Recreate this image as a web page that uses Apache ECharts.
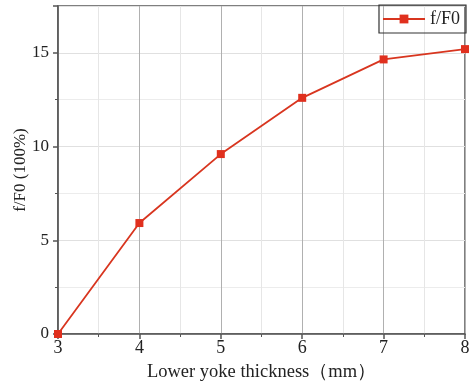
<!DOCTYPE html>
<html><head><meta charset="utf-8">
<script src="https://cdn.jsdelivr.net/npm/echarts@6/dist/echarts.min.js"></script>
<style>html,body{margin:0;padding:0;background:#fff}#c{width:471px;height:387px}</style>
</head><body><div id="c"></div>
<script>
const thickness = [3, 4, 5, 6, 7, 8];
const ratio = [0, 5.92, 9.6, 12.6, 14.65, 15.2];
const seriesName = 'f/F0';
const xTitle = 'Lower yoke thickness（mm）';
const yTitle = 'f/F0 (100%)';
const font = '"Liberation Serif", "DejaVu Serif", serif';
const chart = echarts.init(document.getElementById('c'));
chart.setOption({
  animation: false,
  grid: {left: 58, right: 6, top: 6, bottom: 53, show: true, borderColor: '#555', borderWidth: 1.5,
         backgroundColor: 'transparent', containLabel: false, outerBoundsMode: 'none'},
  legend: {
    right: 5, top: 5, orient: 'horizontal',
    borderColor: '#333', borderWidth: 1.2, padding: [5, 6, 5, 3],
    itemWidth: 42, itemHeight: 11, itemGap: 4,
    textStyle: {fontFamily: font, fontSize: 18, color: '#222'},
    data: [seriesName]
  },
  xAxis: {
    type: 'value', min: 3, max: 8, interval: 1,
    name: xTitle, nameLocation: 'middle', nameGap: 29, nameMoveOverlap: false,
    nameTextStyle: {fontFamily: font, fontSize: 18.5, color: '#222'},
    axisLine: {show: true, lineStyle: {color: '#555', width: 1.5}},
    axisTick: {show: true, inside: false, length: 5, lineStyle: {color: '#555', width: 1.5}},
    minorTick: {show: true, splitNumber: 2, length: 3, lineStyle: {color: '#555'}},
    axisLabel: {fontFamily: font, fontSize: 18, color: '#222', margin: 5},
    splitLine: {show: true, lineStyle: {color: '#b0b0b0', width: 1}},
    minorSplitLine: {show: true, lineStyle: {color: '#e6e6e6', width: 1}}
  },
  yAxis: {
    type: 'value', min: 0, max: 17.5, interval: 5,
    name: yTitle, nameLocation: 'middle', nameGap: 29, nameMoveOverlap: false,
    nameTextStyle: {fontFamily: font, fontSize: 17, color: '#222'},
    axisLine: {show: true, lineStyle: {color: '#555', width: 1.5}},
    axisTick: {show: true, inside: false, length: 5, lineStyle: {color: '#555', width: 1.5}},
    minorTick: {show: true, splitNumber: 2, length: 3, lineStyle: {color: '#555'}},
    axisLabel: {fontFamily: font, fontSize: 17, color: '#222', margin: 9, showMaxLabel: false},
    splitLine: {show: true, lineStyle: {color: '#e0e0e0', width: 1}},
    minorSplitLine: {show: true, lineStyle: {color: '#ececec', width: 1}}
  },
  series: [{
    name: seriesName, type: 'line',
    data: thickness.map((t, i) => [t, ratio[i]]),
    symbol: 'rect', symbolSize: 8,
    lineStyle: {color: '#d8351f', width: 1.8},
    itemStyle: {color: '#e0301e'}
  }]
});
</script></body></html>
